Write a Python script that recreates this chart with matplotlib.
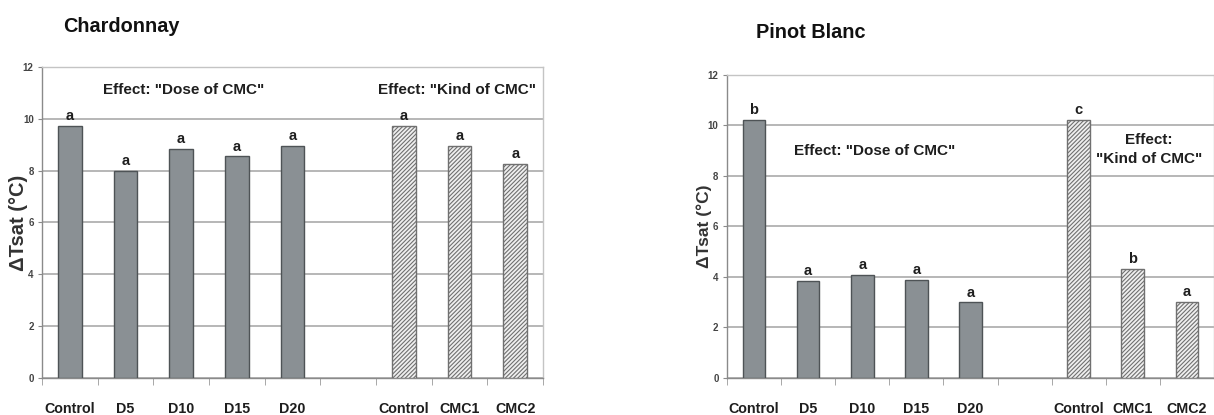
import matplotlib
matplotlib.use("Agg")
import matplotlib.pyplot as plt
from matplotlib import font_manager
import numpy as np

# ---- data -------------------------------------------------------------
dose_labels = ["Control", "D5", "D10", "D15", "D20"]
kind_labels = ["Control", "CMC1", "CMC2"]

chardonnay_dose = [9.73, 8.0, 8.83, 8.55, 8.96]
chardonnay_kind = [9.73, 8.96, 8.25]
chardonnay_dose_letters = ["a", "a", "a", "a", "a"]
chardonnay_kind_letters = ["a", "a", "a"]

pinot_dose = [10.22, 3.83, 4.08, 3.89, 2.99]
pinot_kind = [10.22, 4.31, 3.02]
pinot_dose_letters = ["b", "a", "a", "a", "a"]
pinot_kind_letters = ["c", "b", "a"]

# ---- style ------------------------------------------------------------
installed = {f.name for f in font_manager.fontManager.ttflist}
families = [f for f in ["Liberation Sans Narrow", "Liberation Sans", "DejaVu Sans"] if f in installed]
plt.rcParams["font.family"] = families
plt.rcParams["hatch.linewidth"] = 0.8

SOLID = "#8a9094"
SOLID_EDGE = "#4e5356"
HATCH_FACE = "#efefef"
HATCH_EDGE = "#707070"
GRID = "#a3a3a3"
TEXT = "#1e1e1e"

fig = plt.figure(figsize=(12.14, 4.15), dpi=100)


def draw_panel(ax, dose_vals, kind_vals, dose_letters, kind_letters,
               ylabel_size, ylabel_x):
    n_dose = len(dose_labels)
    x_dose = np.arange(n_dose)
    x_kind = np.arange(len(kind_labels)) + n_dose + 1
    width = 0.42

    ax.bar(x_dose, dose_vals, width=width, color=SOLID, edgecolor=SOLID_EDGE,
           linewidth=1.0, zorder=3)
    ax.bar(x_kind, kind_vals, width=width, color=HATCH_FACE, edgecolor=HATCH_EDGE,
           hatch="////////", linewidth=1.0, zorder=3)

    for xs, vals, letters in ((x_dose, dose_vals, dose_letters),
                              (x_kind, kind_vals, kind_letters)):
        for x, v, t in zip(xs, vals, letters):
            ax.annotate(t, (x, v), xytext=(0, 2), textcoords="offset points",
                        ha="center", va="bottom", fontsize=10.5,
                        fontweight="bold", color=TEXT)

    n_slots = n_dose + 1 + len(kind_labels)
    ax.set_xlim(-0.5, n_slots - 0.5)
    ax.set_ylim(0, 12)
    ax.set_yticks(np.arange(0, 13, 2))
    ax.yaxis.grid(True, color=GRID, linewidth=1.1, zorder=0)
    ax.set_axisbelow(True)

    ticks = list(x_dose) + list(x_kind)
    ax.set_xticks(ticks)
    ax.set_xticklabels(dose_labels + kind_labels, fontsize=10.3,
                       fontweight="bold", color=TEXT)
    ax.set_xticks(np.arange(-0.5, n_slots, 1.0), minor=True)
    ax.tick_params(axis="x", which="major", length=0, pad=17)
    ax.tick_params(axis="x", which="minor", length=5, color="#9a9a9a",
                   direction="out")
    ax.tick_params(axis="y", length=3, color="#8a8a8a", labelsize=7,
                   labelcolor="#444444", pad=3)
    for lab in ax.get_yticklabels():
        lab.set_fontweight("bold")

    for side in ("left", "bottom"):
        ax.spines[side].set_color("#8a8a8a")
        ax.spines[side].set_linewidth(1.0)
    for side in ("top", "right"):
        ax.spines[side].set_color("#c4c4c4")
        ax.spines[side].set_linewidth(1.0)

    ax.set_ylabel("\u0394Tsat (\u00b0C)", fontsize=ylabel_size,
                  fontweight="bold", color="#333333")
    ax.yaxis.set_label_coords(ylabel_x, 0.5)
    return ax


ax1 = fig.add_axes([0.0346, 0.0892, 0.4127, 0.7494])
draw_panel(ax1, chardonnay_dose, chardonnay_kind,
           chardonnay_dose_letters, chardonnay_kind_letters, 14.5, -0.028)
ax1.text(2.05, 11.1, 'Effect: "Dose of CMC"', ha="center", va="center",
         fontsize=11, fontweight="bold", color=TEXT)
ax1.text(6.95, 11.1, 'Effect: "Kind of CMC"', ha="center", va="center",
         fontsize=11, fontweight="bold", color=TEXT)
fig.text(63 / 1214, 1 - 27 / 415, "Chardonnay", ha="left", va="center",
         fontsize=14.3, fontweight="bold", color="#111111")

ax2 = fig.add_axes([0.5988, 0.0892, 0.4012, 0.7301])
draw_panel(ax2, pinot_dose, pinot_kind,
           pinot_dose_letters, pinot_kind_letters, 12.5, -0.03)
ax2.text(2.23, 8.97, 'Effect: "Dose of CMC"', ha="center", va="center",
         fontsize=11, fontweight="bold", color=TEXT)
ax2.text(7.3, 9.05, 'Effect:\n"Kind of CMC"', ha="center", va="center",
         fontsize=11, fontweight="bold", color=TEXT, linespacing=1.5)
fig.text(756 / 1214, 1 - 32 / 415, "Pinot Blanc", ha="left", va="center",
         fontsize=14.3, fontweight="bold", color="#111111")

fig.savefig("out.png", dpi=100)
